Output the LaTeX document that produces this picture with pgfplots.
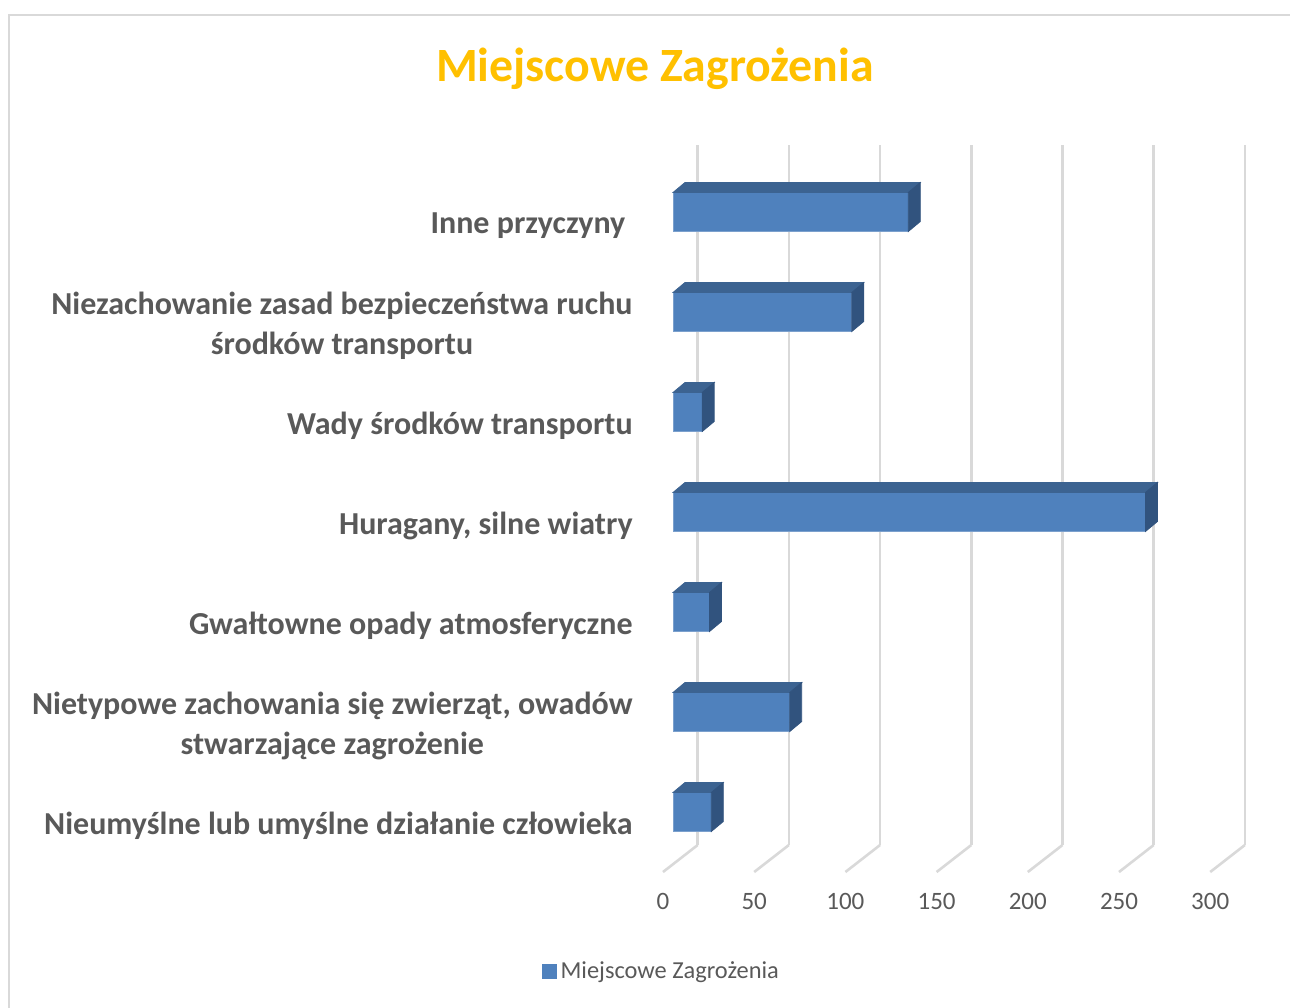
\documentclass[border=0pt]{standalone}
\usepackage{pgfplots}
\pgfplotsset{compat=1.18}
\usepackage{pgfplotstable}
\usepackage{fontspec}
\setmainfont{Carlito}

\definecolor{barfront}{HTML}{4F81BD}
\definecolor{bartop}{HTML}{3C6391}
\definecolor{barside}{HTML}{31537E}
\definecolor{gridc}{HTML}{D9D9D9}
\definecolor{labelc}{HTML}{595959}
\definecolor{titlec}{HTML}{FFC000}

% i = position from the bottom, v = value
\pgfplotstableread{
i v
0 21
1 64
2 20
3 259
4 16
5 98
6 129
}\zagrozenia

\begin{document}
\begin{tikzpicture}
  \useasboundingbox (0,0) rectangle (645pt,-503.5pt);
  \draw[gridc, line width=1pt] (4.5pt,-600pt) -- (4.5pt,-7.5pt) -- (700pt,-7.5pt);
  \node[font=\bfseries\fontsize{23.9}{28}\selectfont, text=titlec] at (327.5pt,-34.5pt) {Miejscowe Zagrożenia};
  \begin{axis}[
      at={(336.5pt,-422.5pt)}, anchor=south west,
      x=0.912pt, y=50pt,
      xmin=0, xmax=300,
      ymin=-0.23, ymax=6.77,
      clip=false,
      axis line style={draw=none},
      major tick length=0pt,
      xtick={0,50,...,300},
      ytick={0,...,6},
      yticklabels={
          Nieumyślne lub umyślne działanie człowieka,
          {Nietypowe zachowania się zwierząt, owadów\\stwarzające zagrożenie},
          Gwałtowne opady atmosferyczne,
          {Huragany, silne wiatry},
          Wady środków transportu,
          Niezachowanie zasad bezpieczeństwa ruchu\\środków transportu,
          Inne przyczyny\ 
        },
      yticklabel style={font=\bfseries\fontsize{16}{20}\selectfont, text=labelc,
          align=center, anchor=east, inner sep=0pt, xshift=-20pt, yshift=-2pt},
      xticklabel style={font=\fontsize{12.5}{15}\selectfont, text=labelc,
          anchor=center, xshift=-5pt, yshift=-28pt},
      /pgf/number format/assume math mode=true,
      xmajorgrids,
      major grid style={gridc, line width=1.3pt, xshift=12.35pt},
      legend style={at={(-0.0195,-0.1805)}, anchor=center, draw=none, fill=none,
          font=\fontsize{12.2}{15}\selectfont, text=labelc},
    ]
    \addplot[xbar, bar width=19.5pt, bar shift=5pt, fill=barfront,
      draw=barfront!75!white, line width=0.4pt,
      legend image code/.code={\fill[barfront] (0pt,-3.5pt) rectangle (7pt,3.5pt);}]
      table[x=v, y=i] {\zagrozenia};
    \addlegendentry{Miejscowe Zagrożenia}
    % top and side faces of the 3D bars
    \addplot[forget plot, scatter, only marks, mark=*, mark size=0pt,
      mark options={draw=none, fill=none},
      visualization depends on={rawx \as \val},
      scatter/@pre marker code/.code={
          \pgfmathsetmacro\L{\val*0.912}
          \fill[bartop] (-\L pt,14.75pt) -- (0pt,14.75pt) -- (6pt,19.75pt) -- (6pt-\L pt,19.75pt) -- cycle;
          \fill[barside] (0pt,-4.75pt) -- (0pt,14.75pt) -- (6pt,19.75pt) -- (6pt,0.25pt) -- cycle;
        },
      scatter/@post marker code/.code={}]
      table[x=v, y=i] {\zagrozenia};
    % floor lines of the grid
    \pgfplotsinvokeforeach{0,50,100,150,200,250,300}{
      \draw[gridc, line width=1.3pt] ([xshift=12.35pt]axis cs:#1,-0.23) -- ([xshift=-5pt, yshift=-13.5pt]axis cs:#1,-0.23);
    }
  \end{axis}
\end{tikzpicture}
\end{document}
